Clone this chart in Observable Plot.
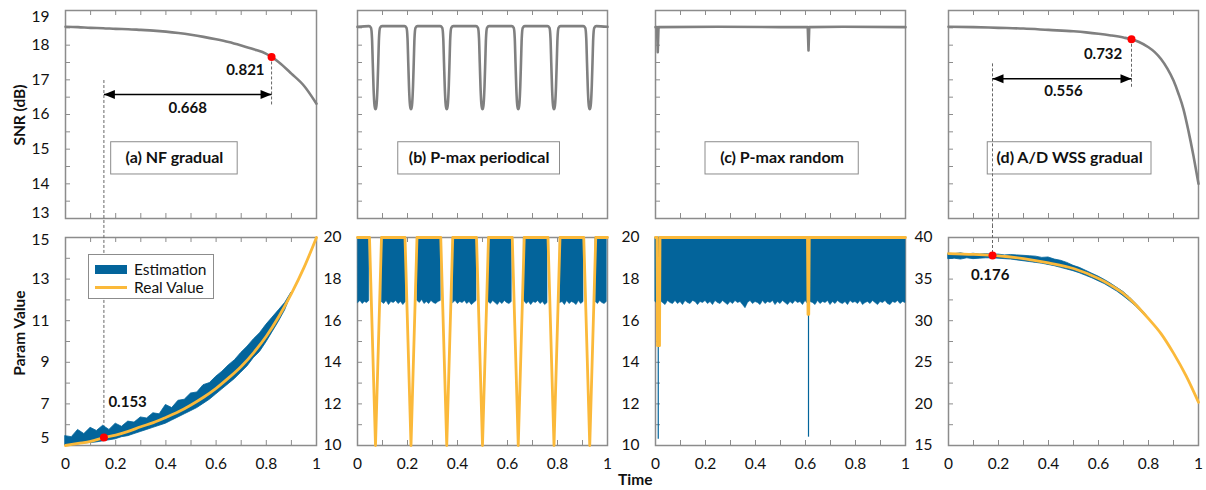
<!DOCTYPE html>
<html><head><meta charset="utf-8">
<script src="https://cdn.jsdelivr.net/npm/d3@7"></script>
<script src="https://cdn.jsdelivr.net/npm/@observablehq/plot@0.6"></script>
<style>
html,body{margin:0;padding:0;background:#fff;}
#root{position:relative;width:1206px;height:490px;overflow:hidden;font-family:Lato,"Open Sans",sans-serif;color:#111;}
#root svg{overflow:visible;}
.ttl{position:absolute;font-weight:bold;font-size:15.5px;white-space:nowrap;line-height:18px;}
#legend{position:absolute;left:88px;top:254px;width:124px;height:43px;border:1px solid #8c8c8c;background:#fff;z-index:5;}
#legend .t{position:absolute;left:45px;font-size:15.5px;line-height:18px;white-space:nowrap;}
</style></head>
<body><div id="root"></div>
<script>
// ---------------- data ----------------
const xMajor = [0, 0.2, 0.4, 0.6, 0.8, 1];
const xMinor = [0, 0.1, 0.2, 0.3, 0.4, 0.5, 0.6, 0.7, 0.8, 0.9, 1];
const snrLabels = [13, 14, 15, 16, 17, 18, 19];
const snrTicks = [13.5, 14, 14.5, 15, 15.5, 16, 16.5, 17, 17.5, 18, 18.5];
const aParamLabels = [5, 7, 9, 11, 13, 15];
const aParamTicks = [6, 7, 8, 9, 10, 11, 12, 13, 14];
const bcParamLabels = [10, 12, 14, 16, 18, 20];
const bcParamTicks = [11, 12, 13, 14, 15, 16, 17, 18, 19];
const dParamLabels = [15, 20, 25, 30, 35, 40];
const dParamTicks = [17.5, 20, 22.5, 25, 27.5, 30, 32.5, 35, 37.5];
const seriesNames = ["Estimation", "Real Value"];
const panelTitles = ["(a) NF gradual", "(b) P-max periodical", "(c) P-max random", "(d) A/D WSS gradual"];

// (a) NF gradual
const aSnrX = [0, 0.05, 0.1, 0.15, 0.2, 0.25, 0.3, 0.35, 0.4, 0.45, 0.5, 0.55, 0.6, 0.65, 0.7, 0.75, 0.8, 0.821, 0.85, 0.9, 0.95, 1];
const aSnr  = [18.53, 18.52, 18.5, 18.49, 18.47, 18.46, 18.44, 18.42, 18.39, 18.35, 18.3, 18.24, 18.17, 18.09, 17.99, 17.88, 17.75, 17.66, 17.51, 17.18, 16.83, 16.31];
const aRealX = [0, 0.05, 0.1, 0.153, 0.2, 0.25, 0.3, 0.35, 0.4, 0.45, 0.5, 0.55, 0.6, 0.65, 0.7, 0.75, 0.8, 0.85, 0.9, 0.95, 1];
const aReal  = [5.0, 5.1, 5.2, 5.38, 5.5, 5.68, 5.9, 6.1, 6.35, 6.62, 6.95, 7.32, 7.75, 8.25, 8.8, 9.47, 10.25, 11.2, 12.3, 13.55, 15.0];
const aEstX = [0, 0.025, 0.05, 0.075, 0.1, 0.125, 0.15, 0.175, 0.2, 0.225, 0.25, 0.275, 0.3, 0.325, 0.35, 0.375, 0.4, 0.425, 0.45, 0.475, 0.5, 0.525, 0.55, 0.575, 0.6, 0.625, 0.65, 0.675, 0.7, 0.725, 0.75, 0.775, 0.8, 0.825, 0.85, 0.875, 0.9];
const aEstHi = [5.45, 5.4, 5.75, 5.55, 5.85, 5.7, 5.95, 5.75, 6.05, 5.9, 6.15, 6.1, 6.35, 6.3, 6.55, 6.5, 6.95, 6.8, 7.15, 7.2, 7.5, 7.55, 7.9, 8.0, 8.3, 8.55, 8.85, 9.1, 9.45, 9.75, 10.1, 10.4, 10.8, 11.15, 11.5, 11.85, 12.35];
const aEstLo = [5.0, 5.0, 5.05, 5.1, 5.12, 5.15, 5.2, 5.25, 5.3, 5.4, 5.45, 5.55, 5.65, 5.75, 5.85, 5.95, 6.05, 6.2, 6.35, 6.5, 6.65, 6.8, 7.0, 7.2, 7.45, 7.7, 7.95, 8.2, 8.5, 8.8, 9.2, 9.5, 9.95, 10.45, 10.95, 11.5, 12.25];

// (b) P-max periodical
const bDipCenters = [0.072, 0.214, 0.357, 0.5, 0.643, 0.786, 0.929];
const bSnrPlateau = 18.53;
const bSnrDipDx  = [-0.026, -0.018, -0.014, -0.011, -0.008, -0.005, -0.002, 0, 0.002, 0.005, 0.008, 0.011, 0.014, 0.018, 0.026];
const bSnrDipVal = [18.55, 18.5, 18.2, 17.5, 16.8, 16.35, 16.18, 16.15, 16.18, 16.35, 16.8, 17.5, 18.2, 18.5, 18.55];
const bRealHigh = 20, bRealLow = 10, bRealHalfWidth = 0.024;
const bPlateaus = [[0.003, 0.047], [0.097, 0.193], [0.24, 0.333], [0.383, 0.476], [0.524, 0.617], [0.667, 0.76], [0.811, 0.904], [0.953, 0.997]];
const bFringe = [
  [16.85, 16.95, 16.8, 16.9, 16.85, 16.95],
  [16.9, 16.8, 16.95, 16.75, 16.9, 16.85, 16.95, 16.8, 16.9, 16.75, 16.9],
  [16.95, 16.85, 17.0, 16.8, 16.9, 16.8, 16.95, 16.85, 16.8, 16.9, 16.95],
  [16.85, 16.95, 16.8, 16.9, 16.85, 16.95, 16.8, 16.9, 16.75, 16.85, 16.95],
  [16.9, 16.8, 16.95, 16.85, 16.75, 16.9, 16.8, 16.95, 16.85, 16.8, 16.9],
  [16.95, 16.8, 16.9, 16.75, 16.9, 16.85, 16.95, 16.8, 16.9, 16.75, 16.85],
  [16.85, 16.9, 16.75, 16.95, 16.8, 16.9, 16.85, 16.75, 16.95, 16.8, 16.9],
  [16.9, 16.8, 16.95, 16.85, 16.8, 16.9]
];

// (c) P-max random
const cSnrX = [0, 0.006, 0.009, 0.012, 0.25, 0.5, 0.609, 0.612, 0.615, 0.75, 1];
const cSnr  = [18.52, 18.52, 17.8, 18.52, 18.53, 18.52, 18.52, 17.85, 18.52, 18.53, 18.52];
const cRealX = [0, 0.006, 0.008, 0.016, 0.018, 0.608, 0.61, 0.613, 0.615, 1];
const cReal  = [20, 20, 14.8, 14.8, 20, 20, 16.3, 16.3, 20, 20];
const cEstLo = [16.9,16.8,16.95,16.85,16.75,16.95,16.85,16.8,16.95,16.8,
  16.9,16.75,16.95,16.85,16.8,16.95,16.9,16.75,16.9,16.85,
  16.95,16.8,16.9,16.75,16.95,16.85,16.8,16.95,16.85,16.75,
  16.9,16.8,16.95,16.85,16.9,16.75,16.6,16.85,16.95,16.8,
  16.9,16.85,16.75,16.95,16.8,16.9,16.85,16.95,16.75,16.9,
  16.8,16.95,16.85,16.75,16.9,16.8,16.95,16.85,16.9,16.75,
  16.95,16.8,16.9,16.85,16.75,16.95,16.8,16.9,16.85,16.95,
  16.75,16.9,16.8,16.95,16.85,16.8,16.9,16.75,16.95,16.85,
  16.9,16.8,16.95,16.75,16.85,16.9,16.8,16.95,16.85,16.75,
  16.9,16.85,16.95,16.8,16.75,16.9,16.85,16.95,16.8,16.9,
  16.85];
const cEstSpikeX = [0.011, 0.612];
const cEstSpikeLo = [10.3, 10.4];

// (d) A/D WSS gradual
const dSnrX = [0, 0.1, 0.2, 0.3, 0.4, 0.5, 0.55, 0.6, 0.65, 0.7, 0.732, 0.76, 0.8, 0.825, 0.85, 0.875, 0.9, 0.92, 0.94, 0.96, 0.98, 1];
const dSnr  = [18.53, 18.52, 18.5, 18.48, 18.44, 18.4, 18.37, 18.33, 18.28, 18.22, 18.17, 18.1, 17.94, 17.8, 17.6, 17.33, 16.98, 16.6, 16.15, 15.52, 14.8, 14.0];
const dRealX = [0, 0.1, 0.176, 0.2, 0.3, 0.4, 0.5, 0.6, 0.65, 0.7, 0.75, 0.8, 0.85, 0.9, 0.95, 1];
const dReal  = [38.07, 37.97, 37.85, 37.8, 37.47, 36.95, 36.27, 35.06, 34.25, 33.26, 31.9, 30.25, 28.45, 26.1, 23.4, 20.2];
const dEstX = [0, 0.025, 0.05, 0.075, 0.1, 0.125, 0.15, 0.175, 0.2, 0.225, 0.25, 0.275, 0.3, 0.325, 0.35, 0.375, 0.4, 0.425, 0.45, 0.475, 0.5, 0.525, 0.55, 0.575, 0.6, 0.625, 0.65, 0.675, 0.7, 0.725, 0.75, 0.775, 0.8];
const dEstHi = [38.05, 38.0, 38.1, 37.95, 38.05, 37.95, 38.0, 37.95, 37.95, 37.85, 37.9, 37.85, 37.8, 37.75, 37.7, 37.55, 37.6, 37.35, 37.2, 36.95, 36.6, 36.35, 36.0, 35.65, 35.3, 34.9, 34.45, 33.95, 33.45, 32.8, 32.05, 31.25, 30.35];
const dEstLo = [37.4, 37.45, 37.35, 37.5, 37.4, 37.45, 37.5, 37.5, 37.45, 37.4, 37.35, 37.25, 37.15, 37.05, 36.95, 36.85, 36.7, 36.55, 36.35, 36.15, 35.95, 35.7, 35.4, 35.1, 34.75, 34.4, 33.95, 33.5, 32.95, 32.35, 31.7, 30.95, 30.15];

// detection annotations
const aDetect = {start: 0.153, startParam: 5.38, end: 0.821, endSnr: 17.66, gap: "0.668"};
const dDetect = {start: 0.176, startParam: 37.85, end: 0.732, endSnr: 18.17, gap: "0.556"};

// ---------------- styles / layout ----------------
const BLUE = "#03649b", GOLD = "#fbb93a", GRAY = "#808080", FRAME = "#8c8c8c", TEXT = "#111", RED = "#ff0000", DASH = "#666";
const FONT = "Lato, 'Open Sans', sans-serif";
const COLS = [{l: 65, r: 316}, {l: 357, r: 607}, {l: 655, r: 905}, {l: 948, r: 1198}];
const ROWS = [{st: 0, ft: 10, fb: 218, sb: 225}, {st: 225, ft: 237, fb: 445, sb: 490}];
const ML = 50, MR = 12;
const root = document.getElementById("root");

const rows = (xs, ys) => xs.map((x, i) => ({x, y: ys[i]}));
const triLeft = {draw(ctx) { ctx.moveTo(0, 0); ctx.lineTo(11, -4.5); ctx.lineTo(11, 4.5); ctx.closePath(); }};
const triRight = {draw(ctx) { ctx.moveTo(0, 0); ctx.lineTo(-11, -4.5); ctx.lineTo(-11, 4.5); ctx.closePath(); }};

function yLabelMarks(labels, nudgeTop, nudgeBottom) {
  const base = {y: d => d, text: d => String(d), frameAnchor: "left", textAnchor: "end", lineAnchor: "middle", dx: -16, fontSize: 15.5, fill: TEXT};
  const n = labels.length;
  return [
    Plot.text(labels.slice(1, n - 1), base),
    Plot.text([labels[n - 1]], {...base, dy: nudgeTop}),
    Plot.text([labels[0]], {...base, dy: nudgeBottom})
  ];
}

function panel(col, row, cfg) {
  const c = COLS[col], r = ROWS[row];
  const fw = c.r - c.l, fh = r.fb - r.ft;
  const marks = [
    Plot.tickX(xMinor, {x: d => d, stroke: FRAME, strokeWidth: 1, insetTop: fh - 5}),
    Plot.tickX(xMinor, {x: d => d, stroke: FRAME, strokeWidth: 1, insetBottom: fh - 5}),
    Plot.tickY(cfg.yTicks, {y: d => d, stroke: FRAME, strokeWidth: 1, insetRight: fw - 5}),
    Plot.frame({stroke: FRAME, strokeWidth: 1.5}),
    ...cfg.marks
  ];
  if (cfg.yLabels) marks.push(...yLabelMarks(cfg.yLabels, cfg.nudge ? cfg.nudge[0] : 0, cfg.nudge ? cfg.nudge[1] : 0));
  if (row === 1) marks.push(Plot.text(xMajor, {x: d => d, text: d => String(d), frameAnchor: "bottom", lineAnchor: "middle", dy: 19, fontSize: 15.5, fill: TEXT}));
  const svg = Plot.plot({
    width: ML + fw + MR, height: r.sb - r.st,
    marginLeft: ML, marginRight: MR, marginTop: r.ft - r.st, marginBottom: r.sb - r.fb,
    x: {domain: [0, 1], axis: null},
    y: {domain: cfg.yDomain, axis: null},
    style: {background: "transparent", overflow: "visible", fontFamily: FONT, fontSize: "15px"},
    marks
  });
  svg.style.position = "absolute";
  svg.style.left = (c.l - ML) + "px";
  svg.style.top = r.st + "px";
  svg.style.maxWidth = "none";
  root.appendChild(svg);
}

function titleBox(x1, x2, label) {
  return [
    Plot.rect([label], {x1, x2, y1: 14.27, y2: 15.2, fill: "#fff", stroke: FRAME, strokeWidth: 1}),
    Plot.text([label], {x: (x1 + x2) / 2, y: 14.735, text: d => d, fontWeight: "bold", fontSize: 16, fill: TEXT, lineAnchor: "middle"})
  ];
}
function arrowMarks(x1, x2, y) {
  return [
    Plot.link([y], {x1, x2, y1: d => d, y2: d => d, stroke: "#000", strokeWidth: 1.5}),
    Plot.dot([y], {x: x1, y: d => d, symbol: triLeft, fill: "#000", stroke: "none"}),
    Plot.dot([y], {x: x2, y: d => d, symbol: triRight, fill: "#000", stroke: "none"})
  ];
}
const bold = {fontWeight: "bold", fontSize: 15, fill: TEXT, lineAnchor: "middle"};
const snrLine = (data, curve = "monotone-x") => Plot.line(data, {x: "x", y: "y", stroke: GRAY, strokeWidth: 2.6, curve});
const realLine = (data, curve = "monotone-x") => Plot.line(data, {x: "x", y: "y", stroke: GOLD, strokeWidth: 2.8, strokeLinejoin: "round", curve});

// ---- (a) top
panel(0, 0, {
  yDomain: [13, 19], yTicks: snrTicks, yLabels: snrLabels, nudge: [6.5, -5],
  marks: [
    ...titleBox(0.182, 0.686, panelTitles[0]),
    Plot.ruleX([aDetect.start], {x: d => d, y1: 16.98, y2: 12.8, stroke: DASH, strokeWidth: 1, strokeDasharray: "3,2"}),
    Plot.ruleX([aDetect.end], {x: d => d, y1: aDetect.endSnr, y2: 16.26, stroke: DASH, strokeWidth: 1, strokeDasharray: "3,2"}),
    snrLine(rows(aSnrX, aSnr)),
    ...arrowMarks(aDetect.start, aDetect.end, 16.58),
    Plot.text([aDetect.gap], {x: (aDetect.start + aDetect.end) / 2, y: 16.17, text: d => d, ...bold}),
    Plot.text([aDetect.end], {x: 0.793, y: 17.27, text: d => d.toFixed(3), textAnchor: "end", ...bold}),
    Plot.dot([aDetect], {x: "end", y: "endSnr", r: 4, fill: RED, stroke: "none"})
  ]
});
// ---- (a) bottom
const aEst = aEstX.map((x, i) => ({x, lo: aEstLo[i], hi: aEstHi[i]}));
panel(0, 1, {
  yDomain: [5, 15], yTicks: aParamTicks, yLabels: aParamLabels, nudge: [3, -7],
  marks: [
    Plot.ruleX([aDetect.start], {x: d => d, y1: 15.58, y2: aDetect.startParam, stroke: DASH, strokeWidth: 1, strokeDasharray: "3,2"}),
    Plot.areaY(aEst, {x: "x", y1: "lo", y2: "hi", fill: BLUE, stroke: BLUE, strokeWidth: 0.8}),
    realLine(rows(aRealX, aReal)),
    Plot.text([aDetect.start], {x: 0.171, y: 7.08, text: d => d.toFixed(3), textAnchor: "start", ...bold}),
    Plot.dot([aDetect], {x: "start", y: "startParam", r: 4, fill: RED, stroke: "none"})
  ]
});

// ---- (b)
const bSnrRows = [{x: 0, y: bSnrPlateau}];
bDipCenters.forEach(c => bSnrDipDx.forEach((dx, i) => bSnrRows.push({x: c + dx, y: bSnrDipVal[i]})));
bSnrRows.push({x: 1, y: bSnrPlateau});
const bRealRows = [{x: 0, y: bRealHigh}];
bDipCenters.forEach(c => { bRealRows.push({x: c - bRealHalfWidth, y: bRealHigh}, {x: c, y: bRealLow}, {x: c + bRealHalfWidth, y: bRealHigh}); });
bRealRows.push({x: 1, y: bRealHigh});
const bEstRows = [];
bPlateaus.forEach(([x0, x1], s) => {
  const f = bFringe[s];
  f.forEach((lo, i) => bEstRows.push({seg: s, x: x0 + (x1 - x0) * i / (f.length - 1), lo, hi: bRealHigh}));
});
panel(1, 0, {
  yDomain: [13, 19], yTicks: snrTicks,
  marks: [...titleBox(0.163, 0.81, panelTitles[1]), snrLine(bSnrRows)]
});
panel(1, 1, {
  yDomain: [10, 20], yTicks: bcParamTicks, yLabels: bcParamLabels,
  marks: [
    Plot.areaY(bEstRows, {x: "x", y1: "lo", y2: "hi", z: "seg", fill: BLUE, stroke: BLUE, strokeWidth: 0.6}),
    realLine(bRealRows, "linear")
  ]
});

// ---- (c)
const cEstRows = cEstLo.map((lo, i) => ({x: i / (cEstLo.length - 1), lo, hi: 20}));
panel(2, 0, {
  yDomain: [13, 19], yTicks: snrTicks,
  marks: [...titleBox(0.2, 0.813, panelTitles[2]), snrLine(rows(cSnrX, cSnr), "linear")]
});
panel(2, 1, {
  yDomain: [10, 20], yTicks: bcParamTicks, yLabels: bcParamLabels,
  marks: [
    Plot.areaY(cEstRows, {x: "x", y1: "lo", y2: "hi", fill: BLUE, stroke: BLUE, strokeWidth: 0.6}),
    Plot.ruleX(rows(cEstSpikeX, cEstSpikeLo), {x: "x", y1: "y", y2: 17, stroke: BLUE, strokeWidth: 1.2}),
    realLine(rows(cRealX, cReal), "linear")
  ]
});

// ---- (d)
const dEst = dEstX.map((x, i) => ({x, lo: dEstLo[i], hi: dEstHi[i]}));
panel(3, 0, {
  yDomain: [13, 19], yTicks: snrTicks,
  marks: [
    ...titleBox(0.157, 0.812, panelTitles[3]),
    Plot.ruleX([dDetect.start], {x: d => d, y1: 17.46, y2: 12.8, stroke: DASH, strokeWidth: 1, strokeDasharray: "3,2"}),
    Plot.ruleX([dDetect.end], {x: d => d, y1: dDetect.endSnr, y2: 16.74, stroke: DASH, strokeWidth: 1, strokeDasharray: "3,2"}),
    snrLine(rows(dSnrX, dSnr)),
    ...arrowMarks(dDetect.start, dDetect.end, 17.03),
    Plot.text([dDetect.gap], {x: 0.46, y: 16.67, text: d => d, ...bold}),
    Plot.text([dDetect.end], {x: 0.695, y: 17.75, text: d => d.toFixed(3), textAnchor: "end", ...bold}),
    Plot.dot([dDetect], {x: "end", y: "endSnr", r: 4, fill: RED, stroke: "none"})
  ]
});
panel(3, 1, {
  yDomain: [15, 40], yTicks: dParamTicks, yLabels: dParamLabels,
  marks: [
    Plot.ruleX([dDetect.start], {x: d => d, y1: 41.44, y2: dDetect.startParam, stroke: DASH, strokeWidth: 1, strokeDasharray: "3,2"}),
    Plot.areaY(dEst, {x: "x", y1: "lo", y2: "hi", fill: BLUE, stroke: BLUE, strokeWidth: 0.8}),
    realLine(rows(dRealX, dReal)),
    Plot.text([dDetect.start], {x: 0.167, y: 35.52, text: d => d.toFixed(3), ...bold}),
    Plot.dot([dDetect], {x: "start", y: "startParam", r: 4, fill: RED, stroke: "none"})
  ]
});

// ---- axis titles & legend
function addTitle(text, cx, cy, rot) {
  const el = document.createElement("div");
  el.className = "ttl";
  el.textContent = text;
  root.appendChild(el);
  const w = el.offsetWidth, h = el.offsetHeight;
  el.style.left = (cx - w / 2) + "px";
  el.style.top = (cy - h / 2) + "px";
  if (rot) el.style.transform = "rotate(-90deg)";
}
addTitle("SNR (dB)", 18, 115, true);
addTitle("Param Value", 18, 333, true);
addTitle("Time", 635, 479, false);

const lg = document.createElement("div");
lg.id = "legend";
lg.innerHTML =
  `<div style="position:absolute;left:6px;top:10px;width:32px;height:9px;background:${BLUE}"></div>` +
  `<div class="t" style="top:5px">${seriesNames[0]}</div>` +
  `<div style="position:absolute;left:6px;top:31px;width:32px;height:3px;background:${GOLD}"></div>` +
  `<div class="t" style="top:23px">${seriesNames[1]}</div>`;
root.appendChild(lg);
</script>
</body></html>
